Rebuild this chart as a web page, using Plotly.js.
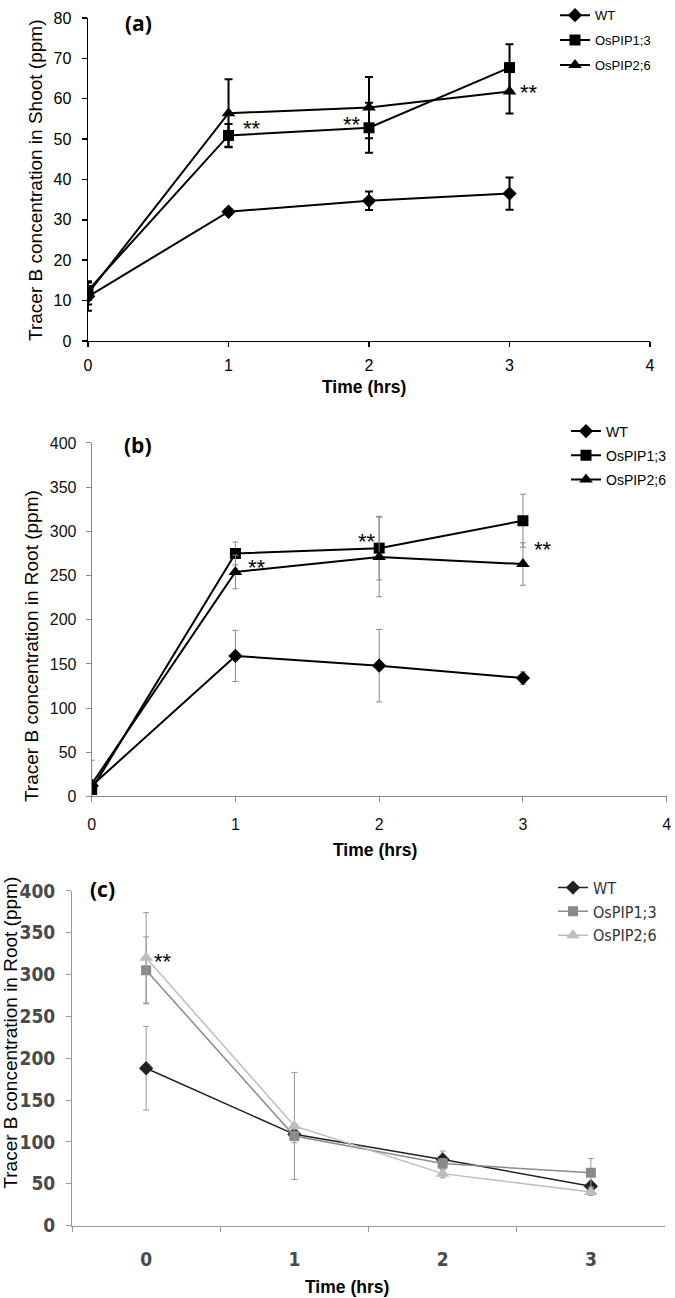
<!DOCTYPE html>
<html>
<head>
<meta charset="utf-8">
<script src="https://cdn.plot.ly/plotly-3.0.1.min.js"></script>
<style>html,body{margin:0;padding:0;background:#fff;}#chart{width:675px;height:1298px;}</style>
</head>
<body>
<div id="chart"></div>
<script>
// ---------- data ----------
const seriesNames = ["WT", "OsPIP1;3", "OsPIP2;6"];
const timeAB = [0, 1, 2, 3];
const timeC = ["0", "1", "2", "3"];

// (a) shoot uptake
const shootWT = [11.0, 32.0, 34.7, 36.5];
const shootWTErr = [3.5, 0.6, 2.3, 4.0];
const shootP13 = [12.5, 50.9, 52.8, 67.7];
const shootP13Err = [2.3, 2.8, 6.2, 5.8];
const shootP26 = [11.8, 56.4, 57.8, 61.8];
const shootP26Err = [2.8, 8.4, 7.6, 5.5];

// (b) root uptake
const rootWT = [12, 159, 148, 134];
const rootWTErr = [2, 29, 41, 7];
const rootP13 = [8, 275, 281, 312];
const rootP13Err = [3, 13, 36, 30];
const rootP26 = [14, 254, 271, 263];
const rootP26Err = [27, 19, 45, 24];

// (c) root efflux
const effWT = [188, 109, 79, 47];
const effWTErr = [50, 5, 10, 4];
const effP13 = [305, 107, 74, 63];
const effP13Err = [40, 8, 6, 17];
const effP26 = [320, 119, 62, 40];
const effP26Err = [54, 64, 5, 4];

// significance marks  [x, y]
const starsA = [[1.17, 52.5], [1.88, 53.7], [3.14, 61.6]];
const starsB = [[1.15, 259], [1.915, 289], [3.14, 280]];
const starsC = [[0.117, 316]];

const symbols = ["diamond", "square", "triangle-up"];
const ticksAB = [0, 1, 2, 3, 4];
const xTitle = "Time (hrs)";
const yTitleShoot = "Tracer B concentration in Shoot (ppm)";
const yTitleRoot = "Tracer B concentration in Root (ppm)";

// ---------- traces ----------
function mk(x, y, err, i, panel, opt) {
  return {
    type: "scatter", mode: "lines+markers", name: seriesNames[i],
    x: x, y: y,
    xaxis: panel.xa, yaxis: panel.ya, legend: panel.lg, legendgroup: panel.lg + i,
    line: {color: opt.lineColor, width: opt.lineWidth},
    marker: {symbol: symbols[i], size: opt.msize[i], color: opt.markerColor},
    error_y: {type: "data", array: err, visible: true, color: opt.errColor,
              thickness: opt.errThick, width: opt.errWidth}
  };
}
const pA = {xa: "x", ya: "y", lg: "legend"};
const pB = {xa: "x2", ya: "y2", lg: "legend2"};
const pC = {xa: "x3", ya: "y3", lg: "legend3"};
const optA = {lineColor: "#000", lineWidth: 2, markerColor: "#000", msize: [11, 11, 12],
              errColor: "#000", errThick: 2, errWidth: 4};
const optB = {lineColor: "#000", lineWidth: 2, markerColor: "#000", msize: [11, 11, 12],
              errColor: "#888", errThick: 1, errWidth: 3};
const cCols = ["#222", "#8a8a8a", "#bdbdbd"];
function optCfor(i) {
  return {lineColor: cCols[i], lineWidth: 1.5, markerColor: cCols[i], msize: [11, 10, 12],
          errColor: "#999", errThick: 1, errWidth: 3};
}

const data = [
  mk(timeAB, shootWT, shootWTErr, 0, pA, optA),
  mk(timeAB, shootP13, shootP13Err, 1, pA, optA),
  mk(timeAB, shootP26, shootP26Err, 2, pA, optA),
  mk(timeAB, rootWT, rootWTErr, 0, pB, optB),
  mk(timeAB, rootP13, rootP13Err, 1, pB, optB),
  mk(timeAB, rootP26, rootP26Err, 2, pB, optB),
  mk(timeC, effWT, effWTErr, 0, pC, optCfor(0)),
  mk(timeC, effP13, effP13Err, 1, pC, optCfor(1)),
  mk(timeC, effP26, effP26Err, 2, pC, optCfor(2))
];

// ---------- layout ----------
const sans = "Liberation Sans, Arial, sans-serif";
const narrow = "Liberation Sans Narrow, Arial Narrow, DejaVu Sans Condensed, sans-serif";
const W = 675, H = 1298;

const annotations = [];
function starAnn(list, xref, yref) {
  list.forEach(p => annotations.push({x: p[0], y: p[1], xref: xref, yref: yref, text: "**",
    xanchor: "center", yanchor: "middle",
    showarrow: false, font: {family: sans, size: 22, color: "#000"}}));
}
starAnn(starsA, "x", "y");
starAnn(starsB, "x2", "y2");
starAnn(starsC, "x3", "y3");
function paperAnn(text, px, py, font, angle) {
  annotations.push({text: text, x: px / W, y: 1 - py / H, xref: "paper", yref: "paper",
    xanchor: "center", yanchor: "middle", textangle: angle || 0, showarrow: false, font: font});
}
// panel letters
[["(a)", 138, 15], ["(b)", 138, 440], ["(c)", 102, 886]].forEach(l =>
  paperAnn("<b>" + l[0] + "</b>", l[1], l[2], {family: "Open Sans, sans-serif", size: 21, color: "#000"}));
// axis titles
[[yTitleShoot, 36, 174], [yTitleRoot, 31, 642], [yTitleRoot, 11, 1031]].forEach(t =>
  paperAnn(t[0], t[1], t[2], {family: sans, size: 19, color: "#000"}, -90));
[[364, 381], [375, 847], [347, 1287]].forEach(t =>
  paperAnn("<b>" + xTitle + "</b>", t[0], t[1], {family: sans, size: 17.5, color: "#000"}));

const layout = {
  width: W, height: H,
  margin: {l: 0, r: 0, t: 0, b: 0},
  paper_bgcolor: "#fff", plot_bgcolor: "#fff",
  showlegend: true,
  annotations: annotations,
  // (a)
  xaxis: {domain: [0.1304, 0.9630], range: [0, 4], tickvals: ticksAB, anchor: "y",
          showline: true, linecolor: "#000", linewidth: 1.5, ticks: "outside", ticklen: 5,
          tickcolor: "#000", tickwidth: 1.5, showgrid: false, zeroline: false, ticklabelstandoff: 4,
          tickfont: {family: sans, size: 16, color: "#000"}},
  yaxis: {domain: [0.7419, 0.9923], range: [0, 80], dtick: 10, anchor: "x",
          showline: true, linecolor: "#000", linewidth: 1.5, ticks: "outside", ticklen: 5,
          tickcolor: "#000", tickwidth: 1.5, showgrid: false, zeroline: false, ticklabelstandoff: 7,
          tickfont: {family: sans, size: 16, color: "#000"}},
  // (b)
  xaxis2: {domain: [0.1358, 0.9877], range: [0, 4], tickvals: ticksAB, anchor: "y2",
          showline: true, linecolor: "#888", linewidth: 1, ticks: "outside", ticklen: 5,
          tickcolor: "#888", showgrid: false, zeroline: false, ticklabelstandoff: 8,
          tickfont: {family: sans, size: 16, color: "#111"}},
  yaxis2: {domain: [0.3888, 0.6628], range: [0, 400], dtick: 50, anchor: "x2",
          showline: true, linecolor: "#888", linewidth: 1, ticks: "outside", ticklen: 5,
          tickcolor: "#888", showgrid: false, zeroline: false, ticklabelstandoff: 6,
          tickfont: {family: sans, size: 16, color: "#111"}},
  // (c)
  xaxis3: {domain: [0.1067, 0.9852], type: "category", categoryorder: "array", categoryarray: timeC,
          range: [-0.5, 3.5], tickson: "boundaries", anchor: "y3",
          showline: true, linecolor: "#999", linewidth: 1, ticks: "outside", ticklen: 5,
          tickcolor: "#999", showgrid: false, zeroline: false, ticklabelstandoff: 17,
          tickfont: {family: narrow, size: 19, color: "#4a4a4a", weight: "bold"}},
  yaxis3: {domain: [0.0562, 0.3156], range: [0, 400], dtick: 50, anchor: "x3",
          showline: true, linecolor: "#999", linewidth: 1, ticks: "outside", ticklen: 5,
          tickcolor: "#999", showgrid: false, zeroline: false, ticklabelstandoff: 7,
          tickfont: {family: narrow, size: 19, color: "#4a4a4a", weight: "bold"}},
  legend: {x: 555 / W, y: 1.006, xanchor: "left", yanchor: "top", bgcolor: "rgba(0,0,0,0)",
           font: {family: sans, size: 13, color: "#000"}, tracegroupgap: 5, itemwidth: 30},
  legend2: {x: 566 / W, y: 1 - 410 / H, xanchor: "left", yanchor: "top", bgcolor: "rgba(0,0,0,0)",
           font: {family: sans, size: 14, color: "#000"}, tracegroupgap: 3, itemwidth: 30},
  legend3: {x: 553 / W, y: 1 - 868 / H, xanchor: "left", yanchor: "top", bgcolor: "rgba(0,0,0,0)",
           font: {family: narrow, size: 16, color: "#333"}, tracegroupgap: 0, itemwidth: 30}
};

Plotly.newPlot("chart", data, layout, {displayModeBar: false, staticPlot: true});
</script>
</body>
</html>
